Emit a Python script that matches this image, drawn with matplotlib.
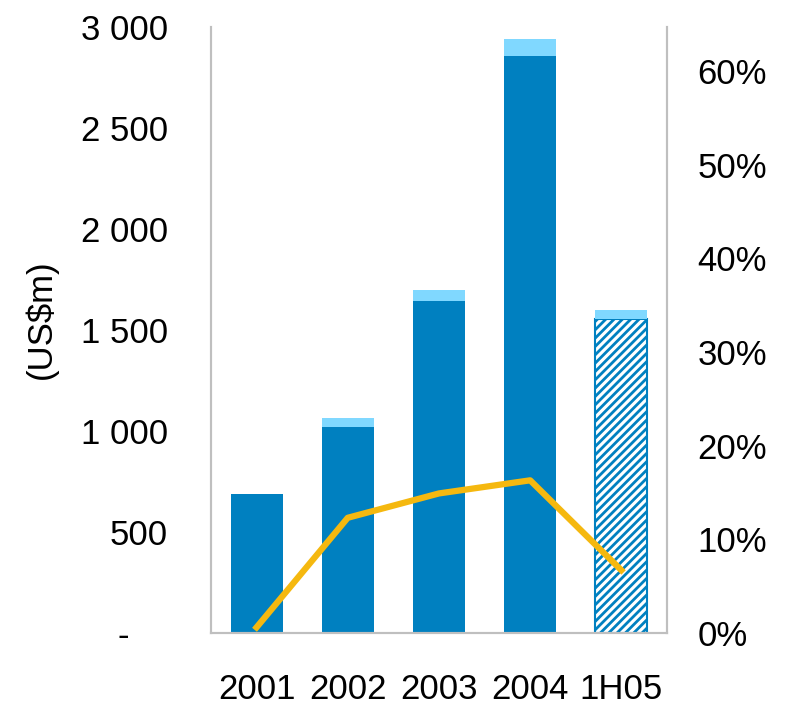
import matplotlib.pyplot as plt

plt.rcParams['font.family'] = ['Liberation Sans', 'DejaVu Sans']

# Données
periods = ['2001', '2002', '2003', '2004', '1H05']
base_values = [690, 1020, 1645, 2855, 1555]
top_values = [0, 45, 55, 85, 45]
margin_pct = [0.6, 12.3, 14.9, 16.3, 6.7]

left_ticks = [0, 500, 1000, 1500, 2000, 2500, 3000]
left_labels = ['-    ', '500', '1 000', '1 500', '2 000', '2 500', '3 000']
right_ticks = [0, 10, 20, 30, 40, 50, 60]

dark_blue = '#0080C0'
light_blue = '#80D8FF'
line_color = '#F5B80F'

plt.rcParams['hatch.color'] = dark_blue
plt.rcParams['hatch.linewidth'] = 2.0

fig = plt.figure(figsize=(7.87, 7.06), dpi=100)
ax = fig.add_axes([0.268, 0.1034, 0.5795, 0.8584])

x = list(range(len(periods)))
width = 0.57
fs = 25

# Barres pleines pour les années complètes, hachurées pour le semestre
for i, v in enumerate(base_values):
    if periods[i] == '1H05':
        ax.bar(i, v, width, color='white', edgecolor=dark_blue, hatch='////',
               linewidth=1.5, zorder=2)
    else:
        ax.bar(i, v, width, color=dark_blue, zorder=2)
ax.bar(x, top_values, width, bottom=base_values, color=light_blue, zorder=2)

ax.set_xlim(-0.5, len(periods) - 0.5)
ax.set_ylim(0, 3000)
ax.set_yticks(left_ticks)
ax.set_yticklabels(left_labels)
ax.set_xticks(x)
ax.set_xticklabels(periods)
ax.tick_params(axis='both', length=0, labelsize=fs)
ax.tick_params(axis='y', pad=31)
ax.tick_params(axis='x', pad=29)
ax.set_ylabel('(US$m)', fontsize=fs)
ax.yaxis.set_label_coords(-0.335, 0.517)

ax.spines['top'].set_visible(False)
for side in ['left', 'bottom', 'right']:
    ax.spines[side].set_color('#BFBFBF')
    ax.spines[side].set_linewidth(1.5)

# Marge en pourcentage sur l'axe secondaire
ax2 = ax.twinx()
ax2.plot(x, margin_pct, color=line_color, linewidth=4.5, zorder=3)
ax2.set_ylim(0, 64.7)
ax2.set_yticks(right_ticks)
ax2.set_yticklabels([f'{t}%' for t in right_ticks])
ax2.tick_params(axis='y', length=0, labelsize=fs, pad=22)
ax2.spines['top'].set_visible(False)
for side in ['left', 'bottom', 'right']:
    ax2.spines[side].set_color('#BFBFBF')
    ax2.spines[side].set_linewidth(1.5)

fig.savefig('out.png', dpi=100)
